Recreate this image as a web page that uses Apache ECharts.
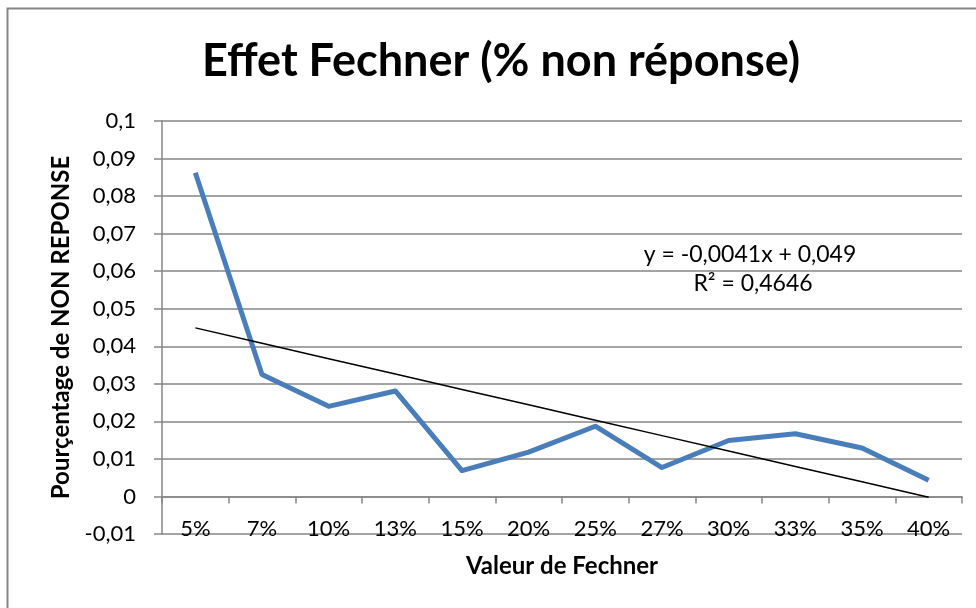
<!DOCTYPE html>
<html>
<head>
<meta charset="utf-8">
<script src="https://cdn.jsdelivr.net/npm/echarts@6/dist/echarts.min.js"></script>
<style>
  html, body { margin: 0; padding: 0; background: #fff; }
  #chart { width: 976px; height: 608px; }
</style>
</head>
<body>
<div id="chart"></div>
<script>
// Fechner values on the category axis
const categories = ['5%', '7%', '10%', '13%', '15%', '20%', '25%', '27%', '30%', '33%', '35%', '40%'];
// Share of non-responses for each Fechner value
const nonResponse = [0.0862, 0.0325, 0.0240, 0.0281, 0.0069, 0.0118, 0.0187, 0.0077, 0.0149, 0.0167, 0.0129, 0.0043];
// Linear trend (x = 1..n) as printed on the chart
const trendSlope = -0.0041;
const trendIntercept = 0.049;
const trendR2 = '0,4646';
const trendValues = categories.map((c, i) => trendIntercept + trendSlope * (i + 1));

const FONT = 'Lato, "Open Sans", "Noto Sans", sans-serif';
const GREY = '#868686';

const chart = echarts.init(document.getElementById('chart'), null, { renderer: 'canvas' });

const fmt = v => {
  const r = Math.round(v * 100) / 100;
  return String(r).replace('.', ',');
};

chart.setOption({
  backgroundColor: '#ffffff',
  animation: false,
  title: {
    text: 'Effet Fechner (% non réponse)',
    left: 496,
    top: 34,
    textAlign: 'center',
    textStyle: { fontFamily: FONT, fontWeight: 'bold', fontSize: 45, color: '#000' }
  },
  grid: { left: 162, right: 14, top: 121, bottom: 74, outerBoundsMode: 'none', containLabel: false },
  xAxis: {
    type: 'category',
    data: categories,
    boundaryGap: true,
    axisLine: { onZero: true, lineStyle: { color: GREY, width: 1.5 } },
    axisTick: { show: true, length: 7, lineStyle: { color: GREY, width: 1.5 } },
    // labels sit across the bottom gridline
    axisLabel: { margin: -16, fontFamily: FONT, fontSize: 22, color: '#000' },
    splitLine: { show: false },
    name: 'Valeur de Fechner',
    nameLocation: 'middle',
    nameGap: 20,
    nameTextStyle: { fontFamily: FONT, fontWeight: 'bold', fontSize: 24, color: '#000' }
  },
  yAxis: {
    type: 'value',
    min: -0.01,
    max: 0.1,
    interval: 0.01,
    axisLine: { show: true, lineStyle: { color: GREY, width: 1.5 } },
    axisTick: { show: true, length: 8, lineStyle: { color: GREY, width: 1.5 } },
    axisLabel: { margin: 26, fontFamily: FONT, fontSize: 22, color: '#000', formatter: fmt },
    splitLine: { show: true, lineStyle: { color: GREY, width: 1.5 } },
    name: 'Pourçentage de NON REPONSE',
    nameLocation: 'middle',
    nameGap: 99,
    nameTextStyle: { fontFamily: FONT, fontWeight: 'bold', fontSize: 24, color: '#000', verticalAlign: 'middle' }
  },
  series: [
    {
      name: 'Non réponse',
      type: 'line',
      data: nonResponse,
      symbol: 'none',
      lineStyle: { color: '#4a7ebb', width: 5, join: 'round' },
      z: 3
    },
    {
      name: 'Tendance',
      type: 'line',
      data: trendValues,
      symbol: 'none',
      lineStyle: { color: '#000', width: 1.5 },
      z: 4
    }
  ],
  graphic: [
    {
      type: 'rect',
      shape: { x: 7.5, y: 8.5, width: 1200, height: 800 },
      style: { fill: 'none', stroke: GREY, lineWidth: 2 },
      silent: true
    },
    {
      type: 'text',
      x: 750, y: 255,
      style: { text: 'y = -0,0041x + 0,049', fontFamily: FONT, fontSize: 23, fill: '#000', align: 'center', verticalAlign: 'middle' }
    },
    {
      type: 'text',
      x: 753, y: 284,
      style: { text: 'R² = ' + trendR2, fontFamily: FONT, fontSize: 23, fill: '#000', align: 'center', verticalAlign: 'middle' }
    }
  ]
});
</script>
</body>
</html>
